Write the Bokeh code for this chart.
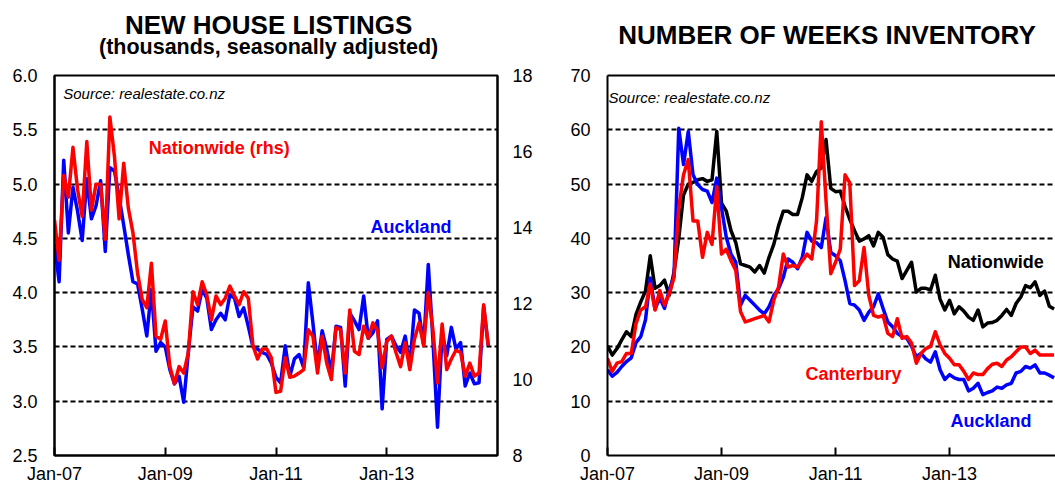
from bokeh.plotting import figure
from bokeh.models import Range1d, LinearAxis, FixedTicker, Label
from bokeh.layouts import row, column
from bokeh.core.properties import value
from bokeh.embed import file_html
from bokeh.resources import INLINE

# ---------------- data ----------------
x_tick_months = [0, 24, 48, 72]
x_tick_labels = ["Jan-07", "Jan-09", "Jan-11", "Jan-13"]

# New house listings (thousands, s.a.), monthly from Jan-07
listings_auckland = [
    4.45, 4.10, 5.22, 4.55, 4.97, 4.75, 4.48, 5.05, 4.68, 4.80, 5.03, 4.38,
    5.15, 5.12, 4.88, 4.62, 4.35, 4.10, 4.08, 3.85, 3.60, 4.03, 3.46, 3.54,
    3.50, 3.29, 3.16, 3.23, 2.99, 3.45, 3.87, 3.83, 4.03, 3.95, 3.66, 3.75,
    3.81, 3.75, 3.98, 3.95, 3.78, 3.86, 3.69, 3.50, 3.48, 3.45, 3.43, 3.35,
    3.22, 3.17, 3.51, 3.23, 3.39, 3.43, 3.31, 4.09, 3.72, 3.32, 3.65, 3.48,
    3.26, 3.69, 3.68, 3.14, 3.81, 3.74, 3.66, 3.97, 3.58, 3.63, 3.74, 2.93,
    3.57, 3.60, 3.51, 3.45, 3.60, 3.32, 3.84, 3.81, 3.52, 4.26, 3.57, 2.76,
    3.63, 3.42, 3.68, 3.48, 3.54, 3.14, 3.26, 3.16, 3.17, 3.87, 3.51,
]
listings_nationwide = [
    14.20, 13.14, 15.37, 14.80, 16.11, 15.00, 14.29, 16.26, 14.46, 15.14, 15.14, 13.69,
    16.91, 15.86, 14.23, 15.69, 14.51, 13.86, 12.80, 12.11, 11.89, 13.06, 11.14, 11.06,
    11.54, 10.34, 9.89, 10.34, 10.17, 10.71, 12.31, 11.97, 12.57, 12.23, 11.57, 12.20,
    11.97, 12.14, 12.46, 12.20, 11.97, 12.31, 12.14, 10.89, 10.54, 10.80, 10.80, 10.57,
    9.66, 9.69, 10.57, 10.06, 10.09, 10.17, 10.26, 11.31, 11.14, 10.17, 11.14, 10.43,
    10.00, 11.37, 11.31, 10.17, 11.83, 10.74, 10.66, 11.40, 11.09, 11.49, 11.29, 10.31,
    11.00, 11.14, 10.71, 10.34, 10.97, 10.26, 11.06, 11.49, 10.89, 12.29, 11.31, 9.91,
    11.46, 10.26, 10.54, 10.77, 10.71, 10.09, 10.43, 10.09, 10.17, 11.97, 10.89,
]

# Number of weeks inventory, monthly from Jan-07
weeks_nationwide = [
    20.2, 18.5, 19.7, 21.3, 22.8, 21.9, 26.0, 28.3, 30.3, 36.8, 30.8, 31.3,
    32.3, 29.5, 33.8, 40.0, 48.0, 50.0, 50.3, 50.8, 51.0, 50.5, 50.8, 59.7,
    46.5, 45.0, 41.4, 39.2, 35.3, 35.0, 34.7, 33.8, 35.0, 33.6, 36.5, 38.9,
    42.3, 45.0, 45.0, 44.4, 44.4, 47.5, 51.7, 50.5, 52.3, 53.0, 58.2, 49.2,
    48.6, 48.7, 45.9, 43.5, 41.4, 39.5, 39.9, 40.5, 38.6, 41.1, 40.2, 37.0,
    36.2, 35.8, 32.6, 34.1, 35.6, 30.1, 30.8, 30.8, 30.5, 33.2, 28.8, 26.8,
    28.6, 26.1, 27.4, 26.6, 25.5, 24.9, 26.8, 23.7, 24.4, 24.5, 24.9, 25.8,
    26.9, 25.8, 28.0, 29.2, 31.3, 30.9, 32.0, 29.5, 30.3, 27.5, 27.0,
]
weeks_auckland = [
    15.8, 14.6, 15.3, 16.4, 17.3, 18.0, 20.8, 21.9, 25.0, 32.7, 27.0, 29.0,
    27.1, 30.5, 33.0, 60.3, 53.6, 59.7, 51.7, 49.9, 49.0, 48.7, 46.6, 51.1,
    45.6, 40.2, 37.1, 35.6, 27.7, 29.5, 28.6, 27.7, 26.8, 26.1, 27.4, 29.5,
    30.7, 32.8, 36.2, 35.6, 34.4, 36.5, 41.1, 39.5, 39.2, 38.3, 43.8, 37.4,
    36.8, 35.9, 32.2, 28.0, 27.7, 26.8, 24.9, 26.4, 27.4, 29.8, 27.1, 24.6,
    23.7, 22.5, 21.9, 21.6, 20.1, 18.2, 18.8, 17.8, 17.2, 19.1, 15.8, 14.0,
    14.9, 14.3, 14.0, 14.0, 11.9, 12.4, 13.3, 11.2, 11.6, 11.9, 12.6, 12.4,
    13.0, 13.3, 15.2, 15.5, 16.4, 16.1, 16.7, 15.2, 15.2, 14.8, 14.3,
]
weeks_canterbury = [
    17.9, 15.5, 17.0, 17.3, 18.8, 18.8, 24.3, 26.8, 27.4, 31.6, 26.8, 30.4,
    27.7, 29.8, 32.8, 45.6, 51.7, 54.5, 43.2, 43.2, 36.5, 41.1, 38.9, 49.5,
    37.1, 38.0, 35.9, 34.1, 26.5, 24.6, 24.9, 25.2, 25.5, 25.8, 24.6, 28.6,
    31.0, 37.1, 34.7, 35.0, 34.7, 35.9, 37.1, 36.2, 43.2, 61.5, 46.9, 33.5,
    35.6, 38.0, 51.7, 50.2, 31.3, 32.2, 38.3, 29.5, 25.8, 25.5, 25.8, 22.5,
    21.9, 25.2, 21.6, 21.9, 20.7, 17.0, 18.8, 19.7, 20.1, 22.8, 20.4, 18.8,
    17.9, 16.7, 16.7, 15.5, 14.0, 15.2, 14.9, 14.9, 16.0, 16.8, 17.0, 16.4,
    17.6, 18.2, 19.1, 20.0, 20.0, 18.8, 19.4, 18.5, 18.5, 18.5, 18.5,
]

lhs_ticks = [2.5, 3.0, 3.5, 4.0, 4.5, 5.0, 5.5, 6.0]
lhs_tick_labels = ["2.5", "3.0", "3.5", "4.0", "4.5", "5.0", "5.5", "6.0"]
rhs_ticks = [8, 10, 12, 14, 16, 18]
weeks_ticks = [0, 10, 20, 30, 40, 50, 60, 70]

FONT = "Liberation Sans"
RED = "#FF0000"
BLUE = "#0000FF"

# ---------------- layout constants ----------------
TOP_H = 63                   # title strip height
MAIN_H = 486 - TOP_H
PAD_TOP, PAD_BOT = 12, 28
W1, L1, R1, M1 = 550, 54, 53, 96.0      # left panel: width, borders, months shown
W2, L2, R2, M2 = 505, 57, 0, 94.3       # right panel


def base_fig(**kw):
    return figure(output_backend="svg", toolbar_location=None, frame_align=False, title=None,
                  background_fill_color="white", border_fill_color="white", **kw)


def style_x(ax):
    ax.ticker = FixedTicker(ticks=x_tick_months)
    ax.major_label_overrides = {m: l for m, l in zip(x_tick_months, x_tick_labels)}
    ax.major_tick_in = 8
    ax.major_tick_out = 0
    ax.major_tick_line_width = 2
    ax.major_tick_line_color = "black"
    ax.minor_tick_line_color = None
    ax.axis_line_width = 2
    ax.axis_line_color = "black"
    ax.major_label_text_font = FONT
    ax.major_label_text_font_size = "18px"
    ax.major_label_text_color = "black"
    ax.major_label_standoff = 8


def style_y(ax, ticks, labels=None, standoff=15):
    ax.ticker = FixedTicker(ticks=ticks)
    if labels is not None:
        ax.major_label_overrides = {t: l for t, l in zip(ticks, labels)}
    ax.major_tick_in = 0
    ax.major_tick_out = 0
    ax.minor_tick_line_color = None
    ax.axis_line_width = 2
    ax.axis_line_color = "black"
    ax.major_label_text_font = FONT
    ax.major_label_text_font_size = "18px"
    ax.major_label_text_color = "black"
    ax.major_label_standoff = standoff


def grid(p):
    p.xgrid.visible = False
    p.ygrid.grid_line_color = "black"
    p.ygrid.grid_line_dash = "5 3"
    p.ygrid.grid_line_width = 2


def label(p, x, y, text, color="black", size="18px", style="bold"):
    p.add_layout(Label(x=x, y=y, text=text, text_color=color, text_font=FONT,
                       text_font_size=size, text_font_style=style, text_align="left",
                       text_baseline="middle"))


def strip(width, height, left, right, months):
    ppm = (width - left - right) / months
    s = base_fig(width=width, height=height,
                 x_range=Range1d(-left / ppm, months + right / ppm), y_range=Range1d(0, height),
                 x_axis_location=None, y_axis_location=None,
                 min_border_left=0, min_border_right=0, min_border_top=0, min_border_bottom=0)
    s.outline_line_color = None
    s.xgrid.visible = False
    s.ygrid.visible = False
    return s


def title_text(s, x, y, txt, size):
    s.text(x=[x], y=[y], text=[txt], text_font=value(FONT), text_font_size=value(size),
           text_font_style="bold", text_align="center", text_baseline="middle",
           text_color="black")


# ---------------- left panel ----------------
p1 = base_fig(width=W1, height=MAIN_H, x_range=Range1d(0, M1), y_range=Range1d(2.5, 6.0),
              min_border_left=L1, min_border_right=R1,
              min_border_top=PAD_TOP, min_border_bottom=PAD_BOT)
p1.outline_line_color = "black"
p1.outline_line_width = 2
grid(p1)
style_x(p1.xaxis[0])
style_y(p1.yaxis[0], lhs_ticks, lhs_tick_labels, standoff=17)
p1.extra_y_ranges = {"rhs": Range1d(8, 18)}
rax = LinearAxis(y_range_name="rhs")
style_y(rax, rhs_ticks, standoff=15)
p1.add_layout(rax, "right")

p1.line(list(range(len(listings_auckland))), listings_auckland, line_color=BLUE,
        line_width=3.5, line_join="round")
p1.line(list(range(len(listings_nationwide))), listings_nationwide, line_color=RED,
        line_width=3.5, line_join="round", y_range_name="rhs")

label(p1, 1.9, 5.832, "Source:  realestate.co.nz", size="15px", style="italic")
label(p1, 20.4, 5.328, "Nationwide (rhs)", color=RED)
label(p1, 68.5, 4.607, "Auckland", color=BLUE)

t1 = strip(W1, TOP_H, L1, R1, M1)
title_text(t1, 46.4, TOP_H - 24, "NEW HOUSE LISTINGS", "26px")
title_text(t1, 46.4, TOP_H - 46.5, "(thousands, seasonally adjusted)", "21.5px")

# ---------------- right panel ----------------
p2 = base_fig(width=W2, height=MAIN_H, x_range=Range1d(0, M2), y_range=Range1d(0, 70),
              min_border_left=L2, min_border_right=R2,
              min_border_top=PAD_TOP, min_border_bottom=PAD_BOT)
p2.outline_line_color = None
grid(p2)
style_x(p2.xaxis[0])
style_y(p2.yaxis[0], weeks_ticks, standoff=17)
top = LinearAxis(ticker=FixedTicker(ticks=[]), axis_line_width=2, axis_line_color="black",
                 major_tick_line_color=None, minor_tick_line_color=None, major_label_standoff=0)
p2.add_layout(top, "above")

p2.line(list(range(len(weeks_nationwide))), weeks_nationwide, line_color="black",
        line_width=3.5, line_join="round")
p2.line(list(range(len(weeks_auckland))), weeks_auckland, line_color=BLUE, line_width=3.5,
        line_join="round")
p2.line(list(range(len(weeks_canterbury))), weeks_canterbury, line_color=RED, line_width=3.5,
        line_join="round")

label(p2, 0.2, 66.0, "Source:  realestate.co.nz", size="15px", style="italic")
label(p2, 71.6, 35.6, "Nationwide")
label(p2, 41.7, 15.0, "Canterbury", color=RED)
label(p2, 72.2, 6.3, "Auckland", color=BLUE)

t2 = strip(W2, TOP_H, L2, R2, M2)
title_text(t2, 46.2, TOP_H - 34.2, "NUMBER OF WEEKS INVENTORY", "26px")

layout = row(column(t1, p1), column(t2, p2))
open("out.html", "w").write(file_html(layout, INLINE))
